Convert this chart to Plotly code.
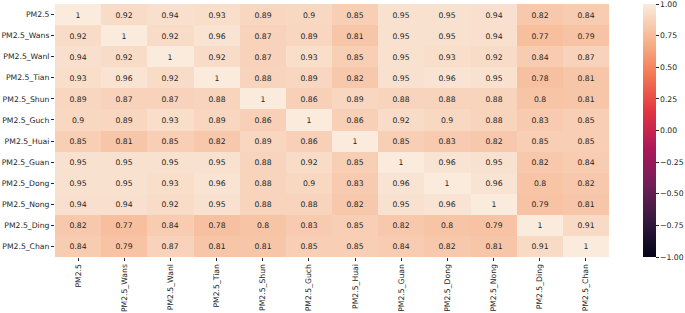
import plotly.graph_objects as go

labels = ["PM2.5", "PM2.5_Wans", "PM2.5_Wanl", "PM2.5_Tian", "PM2.5_Shun", "PM2.5_Guch",
          "PM2.5_Huai", "PM2.5_Guan", "PM2.5_Dong", "PM2.5_Nong", "PM2.5_Ding", "PM2.5_Chan"]

r_pm25 = [1, 0.92, 0.94, 0.93, 0.89, 0.9, 0.85, 0.95, 0.95, 0.94, 0.82, 0.84]
r_wans = [0.92, 1, 0.92, 0.96, 0.87, 0.89, 0.81, 0.95, 0.95, 0.94, 0.77, 0.79]
r_wanl = [0.94, 0.92, 1, 0.92, 0.87, 0.93, 0.85, 0.95, 0.93, 0.92, 0.84, 0.87]
r_tian = [0.93, 0.96, 0.92, 1, 0.88, 0.89, 0.82, 0.95, 0.96, 0.95, 0.78, 0.81]
r_shun = [0.89, 0.87, 0.87, 0.88, 1, 0.86, 0.89, 0.88, 0.88, 0.88, 0.8, 0.81]
r_guch = [0.9, 0.89, 0.93, 0.89, 0.86, 1, 0.86, 0.92, 0.9, 0.88, 0.83, 0.85]
r_huai = [0.85, 0.81, 0.85, 0.82, 0.89, 0.86, 1, 0.85, 0.83, 0.82, 0.85, 0.85]
r_guan = [0.95, 0.95, 0.95, 0.95, 0.88, 0.92, 0.85, 1, 0.96, 0.95, 0.82, 0.84]
r_dong = [0.95, 0.95, 0.93, 0.96, 0.88, 0.9, 0.83, 0.96, 1, 0.96, 0.8, 0.82]
r_nong = [0.94, 0.94, 0.92, 0.95, 0.88, 0.88, 0.82, 0.95, 0.96, 1, 0.79, 0.81]
r_ding = [0.82, 0.77, 0.84, 0.78, 0.8, 0.83, 0.85, 0.82, 0.8, 0.79, 1, 0.91]
r_chan = [0.84, 0.79, 0.87, 0.81, 0.81, 0.85, 0.85, 0.84, 0.82, 0.81, 0.91, 1]

z = [r_pm25, r_wans, r_wanl, r_tian, r_shun, r_guch, r_huai, r_guan, r_dong, r_nong, r_ding, r_chan]
text = [[("1" if v == 1 else f"{v:g}") for v in row] for row in z]

cb_vals = [1.0, 0.75, 0.5, 0.25, 0.0, -0.25, -0.5, -0.75, -1.0]
cb_text = [f"{v:.2f}".replace("-", "\u2212") for v in cb_vals]

rocket = [
    [0.0, "#03051a"],
    [0.143, "#35193e"],
    [0.286, "#701f57"],
    [0.429, "#ad1759"],
    [0.571, "#e13342"],
    [0.714, "#f37651"],
    [0.857, "#f6b48f"],
    [1.0, "#faebdd"],
]

FONT = "DejaVu Sans"
FS = 7.7

fig = go.Figure(go.Heatmap(
    z=z, x=labels, y=labels, zmin=-1, zmax=1, colorscale=rocket,
    text=text, texttemplate="%{text}",
    textfont=dict(family=FONT, size=FS, color="#262626"),
    colorbar=dict(x=1.061, xanchor="left", xpad=0, y=0.5, yanchor="middle", ypad=0,
                  len=1, lenmode="fraction", thickness=13, outlinewidth=0,
                  ticks="outside", ticklen=3, tickcolor="#262626",
                  tickvals=cb_vals, ticktext=cb_text, ticklabeloverflow="allow",
                  tickfont=dict(family=FONT, size=FS, color="#262626")),
))

fig.update_layout(
    width=685, height=313,
    margin=dict(l=55, r=76, t=4, b=56, autoexpand=False),
    paper_bgcolor="white", plot_bgcolor="white",
    font=dict(family=FONT, size=FS, color="#262626"),
)
fig.update_xaxes(tickangle=-90, ticks="outside", ticklen=3, tickcolor="#262626",
                 showgrid=False, zeroline=False, showline=False, automargin=False,
                 tickfont=dict(size=FS))
fig.update_yaxes(autorange="reversed", ticks="outside", ticklen=3, tickcolor="#262626",
                 showgrid=False, zeroline=False, showline=False, automargin=False,
                 tickfont=dict(size=FS))

fig.write_html("out.html", config={"displayModeBar": False},
               post_script="document.body.style.margin='0';document.body.style.overflow='hidden';")
